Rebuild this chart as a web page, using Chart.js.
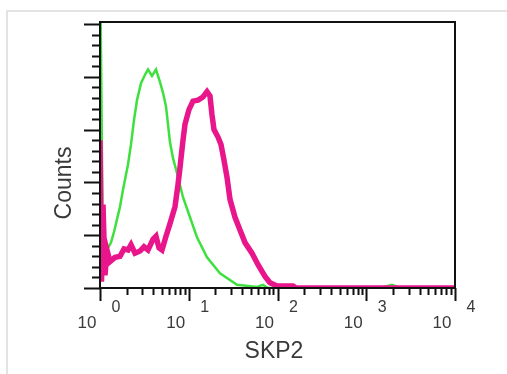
<!DOCTYPE html>
<html>
<head>
<meta charset="utf-8">
<script src="https://cdn.jsdelivr.net/npm/chart.js@4/dist/chart.umd.min.js"></script>
<style>
  html, body { margin: 0; padding: 0; background: #fff; }
  #wrap { position: relative; width: 507px; height: 374px; }
  #frame { position: absolute; left: 6px; top: 10px; right: 0; bottom: 0;
           border-top: 2px solid #e3e3e3; border-left: 2px solid #e3e3e3; }
  canvas { position: absolute; left: 0; top: 0; }
</style>
</head>
<body>
<div id="wrap">
  <div id="frame"></div>
  <canvas id="c" width="507" height="374"></canvas>
</div>
<script>
// SKP2 histogram (magenta) and control (green), log fluorescence vs counts
const pinkX = [1, 1.04, 1.081, 1.139, 1.199, 1.296, 1.476, 1.68, 1.864, 2.068, 2.235, 2.48, 2.823, 3.132,
  3.474, 3.955, 4.276, 4.621, 4.995, 5.542, 6.148, 7.0, 7.566, 7.968, 8.614, 9.071, 10.06, 11.17, 12.72,
  14.47, 16.06, 17.35, 18.28, 19.25, 21.36, 23.09, 24.96, 26.98, 29.16, 33.2, 37.8, 43.04, 51.61, 60.31,
  72.33, 82.34, 98.72, 149.5, 161.6, 10000];
const pinkY = [140, 6, 79, 12, 36, 25, 29, 30, 37, 36, 41, 33, 35, 39,
  36, 46, 49, 38, 36, 49, 61, 77, 98, 114, 140, 155, 169, 177, 178,
  181, 186, 182, 164, 150, 143, 136, 121, 105, 84, 67, 55, 43, 33, 22,
  11, 5, 2, 2, 0, 0];

const greenX = [1, 1.081, 1.199, 1.33, 1.438, 1.554, 1.68, 1.816, 2.068, 2.235, 2.416, 2.612, 2.897, 3.214,
  3.474, 3.854, 4.276, 4.744, 5.128, 5.542, 5.836, 6.148, 6.645, 7.373, 8.614, 10.33, 12.39, 16.06, 22.49,
  34.98, 58.75, 68.65, 78.16, 1430, 1951, 2400, 10000];
const greenY = [320, 25, 36, 43, 53, 65, 77, 93, 117, 136, 159, 178, 194, 202,
  207, 201, 207, 195, 185, 172, 155, 138, 123, 109, 86, 67, 48, 29, 14,
  3, 1, 3, 0, 0, 3, 0, 0];

const decadeValues = [1, 10, 100, 1000, 10000];
const decadeExps = ['0', '1', '2', '3', '4'];
const yTickValues = [0, 10, 20, 30, 40, 50, 60, 70, 80, 90, 100, 110, 120, 130, 140, 150,
  160, 170, 180, 190, 200, 210, 220, 230, 240, 250];

const axisMarks = {
  id: 'axisMarks',
  afterDraw(chart) {
    const { ctx, chartArea: a, scales: { x, y } } = chart;
    ctx.save();
    ctx.strokeStyle = '#111';
    ctx.lineWidth = 2;
    ctx.strokeRect(a.left, a.top, a.right - a.left, a.bottom - a.top);

    ctx.beginPath();
    yTickValues.forEach(v => {
      const py = Math.round(y.getPixelForValue(v)) + 0.5;
      const len = v % 50 === 0 ? 16 : 8;
      ctx.moveTo(a.left - len, py);
      ctx.lineTo(a.left, py);
    });
    for (const d of decadeValues) {
      for (let m = 1; m <= 9; m++) {
        const v = d * m;
        if (v > 10000) break;
        const px = Math.round(x.getPixelForValue(v)) + 0.5;
        const len = m === 1 ? 13 : 7;
        ctx.moveTo(px, a.bottom);
        ctx.lineTo(px, a.bottom + len);
      }
    }
    ctx.stroke();

    ctx.fillStyle = '#3a3a3a';
    ctx.textAlign = 'center';
    ctx.textBaseline = 'middle';
    decadeValues.forEach((v, i) => {
      const px = x.getPixelForValue(v);
      ctx.font = '17px "Liberation Sans", Arial, sans-serif';
      ctx.fillText('10', px - 13, 323);
      ctx.font = '16px "Liberation Sans", Arial, sans-serif';
      ctx.fillText(decadeExps[i], px + 16, 308);
    });

    ctx.font = '23px "Liberation Sans", Arial, sans-serif';
    ctx.fillText('SKP2', 274, 352);
    ctx.translate(65, 183);
    ctx.rotate(-Math.PI / 2);
    ctx.fillText('Counts', 0, 0);
    ctx.restore();
  }
};

new Chart(document.getElementById('c'), {
  type: 'line',
  data: {
    datasets: [
      {
        label: 'SKP2',
        data: pinkX.map((v, i) => ({ x: v, y: pinkY[i] })),
        borderColor: '#e8168a',
        borderWidth: 5.5,
        pointRadius: 0,
        tension: 0,
        fill: false,
      },
      {
        label: 'Control',
        data: greenX.map((v, i) => ({ x: v, y: greenY[i] })),
        borderColor: '#3ee03e',
        borderWidth: 2.5,
        pointRadius: 0,
        tension: 0,
        fill: false,
      },
    ],
  },
  options: {
    responsive: false,
    animation: false,
    devicePixelRatio: 1,
    layout: { padding: { left: 100, top: 22, right: 52, bottom: 86 } },
    plugins: { legend: { display: false }, tooltip: { enabled: false } },
    scales: {
      x: {
        type: 'logarithmic', min: 1, max: 10000,
        grid: { display: false, drawTicks: false },
        border: { display: false },
        ticks: { display: false },
      },
      y: {
        type: 'linear', min: 0, max: 252,
        grid: { display: false, drawTicks: false },
        border: { display: false },
        ticks: { display: false },
      },
    },
  },
  plugins: [axisMarks],
});
</script>
</body>
</html>
